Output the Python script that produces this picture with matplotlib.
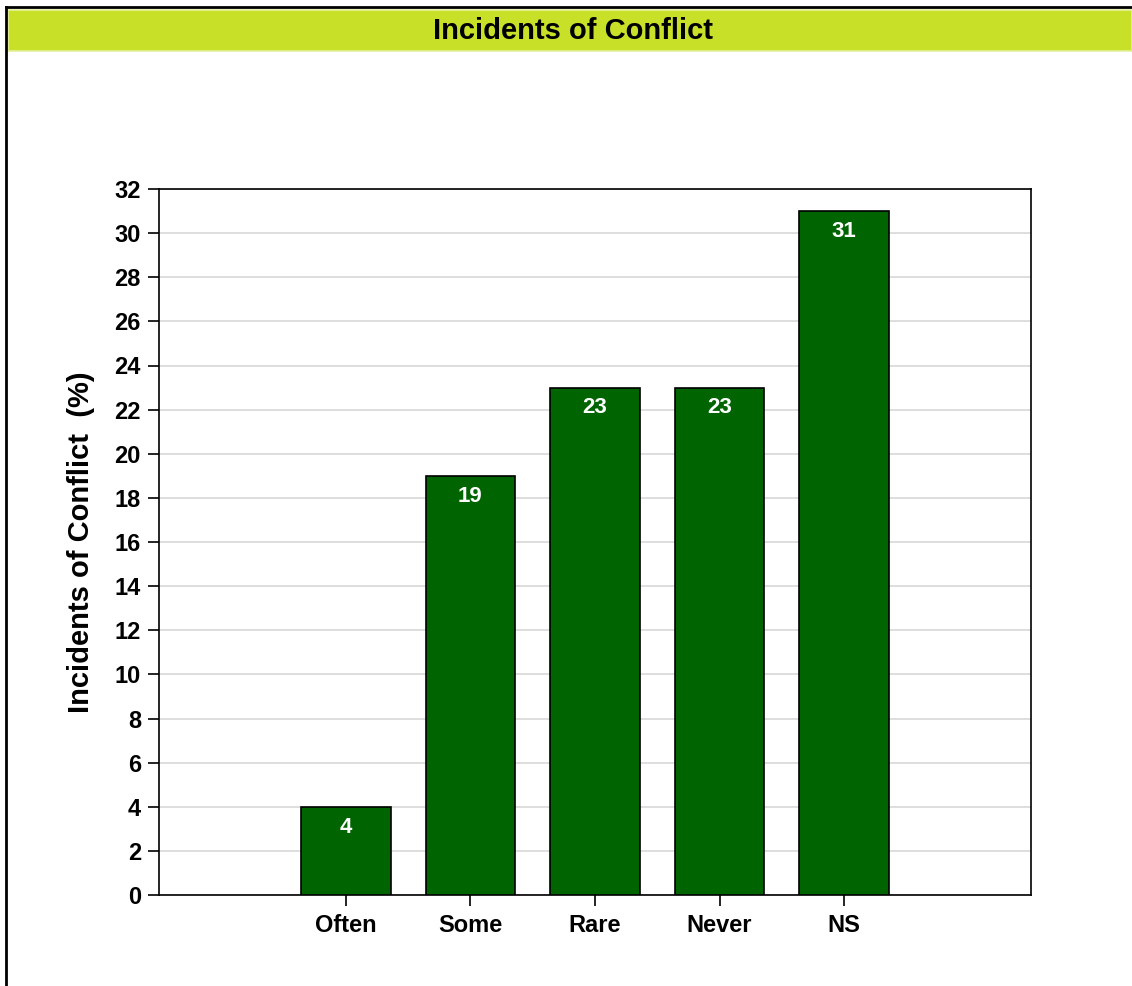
import matplotlib.pyplot as plt
from matplotlib.patches import Rectangle
from matplotlib.lines import Line2D

categories = ['Often', 'Some', 'Rare', 'Never', 'NS']
values = [4, 19, 23, 23, 31]
yticks = list(range(0, 33, 2))

plt.rcParams['font.family'] = ['Liberation Sans', 'DejaVu Sans']

W, H = 1132, 986
fig = plt.figure(figsize=(W / 100, H / 100), dpi=100)

# outer frame (top and left edges)
fig.add_artist(Line2D([6 / W, 6 / W], [0, 1 - 7 / H], color='black', lw=2))
fig.add_artist(Line2D([6 / W, 1], [1 - 7 / H, 1 - 7 / H], color='black', lw=2))

# title bar
fig.add_artist(Rectangle((8 / W, 1 - 51 / H), 1 - 8 / W, 41 / H,
                         facecolor='#c8e028', edgecolor='#e4f0a0', lw=1.2))
fig.text(573 / W, 1 - 31 / H, 'Incidents of Conflict', ha='center', va='center',
         fontsize=21, fontweight='bold', color='black')

ax = fig.add_axes([159 / W, 1 - 895 / H, 872 / W, 706 / H])
x = list(range(len(categories)))
bars = ax.bar(x, values, width=0.72, color='#006400', edgecolor='black',
              linewidth=1.2, zorder=3)
for b, v in zip(bars, values):
    ax.text(b.get_x() + b.get_width() / 2, v - 0.45, str(v), ha='center', va='top',
            color='white', fontsize=16, fontweight='bold', zorder=4)

ax.set_xlim(-1.5, 5.5)
ax.set_ylim(0, 32)
ax.set_yticks(yticks)
ax.set_xticks(x)
ax.set_xticklabels(categories)
ax.yaxis.grid(True, color='#d8d8d8', lw=1.2, zorder=0)
ax.tick_params(axis='both', labelsize=17, length=8, width=1.2, color='black')
for lab in ax.get_xticklabels() + ax.get_yticklabels():
    lab.set_fontweight('bold')
ax.tick_params(axis='x', pad=6)
ax.tick_params(axis='y', pad=5)
for s in ax.spines.values():
    s.set_linewidth(1.2)
ax.set_ylabel('Incidents of Conflict  (%)', fontsize=21, fontweight='bold', labelpad=14)

fig.savefig('out.png', dpi=100)
